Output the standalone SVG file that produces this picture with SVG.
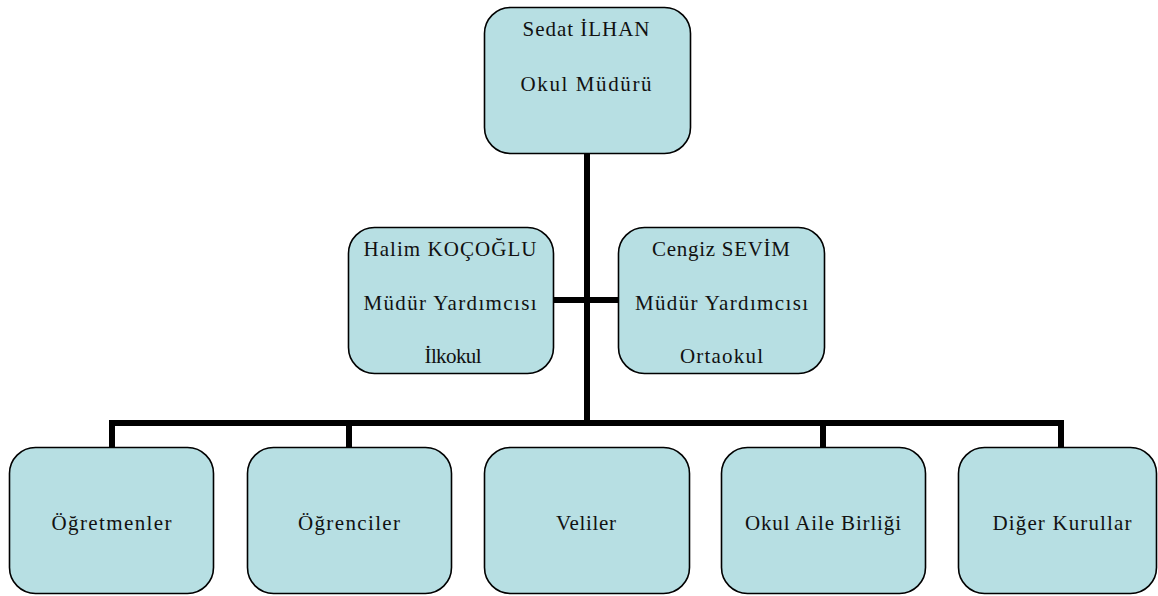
<svg xmlns="http://www.w3.org/2000/svg" width="1158" height="596" viewBox="0 0 1158 596">
<style>
.box{fill:#b7dfe3;stroke:#000;stroke-width:1.6}
.t{font-family:"Liberation Serif","DejaVu Serif",serif;font-size:21px;fill:#111;text-anchor:middle}
.c{stroke:#000;stroke-width:6;fill:none}
</style>
<rect width="1158" height="596" fill="#fff"/>
<g id="connectors">
<line class="c" x1="587" y1="153" x2="587" y2="424"/>
<line class="c" x1="553" y1="300" x2="618" y2="300"/>
<polyline class="c" points="112,447 112,423 1061,423 1061,447"/>
<line class="c" x1="349" y1="423" x2="349" y2="447"/>
<line class="c" x1="823" y1="423" x2="823" y2="447"/>
</g>
<g id="mudur">
<rect class="box" x="484.5" y="7.5" width="206" height="146" rx="26"/>
<text class="t" x="586" y="36" textLength="127" lengthAdjust="spacing">Sedat İLHAN</text>
<text class="t" x="586" y="91" textLength="131" lengthAdjust="spacing">Okul Müdürü</text>
</g>
<g id="yardimci1">
<rect class="box" x="348.5" y="227.5" width="205" height="146" rx="26"/>
<text class="t" x="450" y="256" textLength="173" lengthAdjust="spacing">Halim KOÇOĞLU</text>
<text class="t" x="450" y="310" textLength="173" lengthAdjust="spacing">Müdür Yardımcısı</text>
<text class="t" x="453" y="363" textLength="57" lengthAdjust="spacing">İlkokul</text>
</g>
<g id="yardimci2">
<rect class="box" x="618.5" y="227.5" width="206" height="146" rx="26"/>
<text class="t" x="721" y="256" textLength="138" lengthAdjust="spacing">Cengiz SEVİM</text>
<text class="t" x="721.5" y="310" textLength="173" lengthAdjust="spacing">Müdür Yardımcısı</text>
<text class="t" x="721.5" y="363" textLength="83" lengthAdjust="spacing">Ortaokul</text>
</g>
<g id="ogretmenler">
<rect class="box" x="9.5" y="447.5" width="204" height="146" rx="26"/>
<text class="t" x="111.5" y="530" textLength="120" lengthAdjust="spacing">Öğretmenler</text>
</g>
<g id="ogrenciler">
<rect class="box" x="247.5" y="447.5" width="204" height="146" rx="26"/>
<text class="t" x="349" y="530" textLength="102" lengthAdjust="spacing">Öğrenciler</text>
</g>
<g id="veliler">
<rect class="box" x="484.5" y="447.5" width="205" height="146" rx="26"/>
<text class="t" x="586" y="530" textLength="60" lengthAdjust="spacing">Veliler</text>
</g>
<g id="oab">
<rect class="box" x="721.5" y="447.5" width="204" height="146" rx="26"/>
<text class="t" x="823" y="530" textLength="156" lengthAdjust="spacing">Okul Aile Birliği</text>
</g>
<g id="diger">
<rect class="box" x="958.5" y="447.5" width="198" height="146" rx="26"/>
<text class="t" x="1062" y="530" textLength="139" lengthAdjust="spacing">Diğer Kurullar</text>
</g>
</svg>
